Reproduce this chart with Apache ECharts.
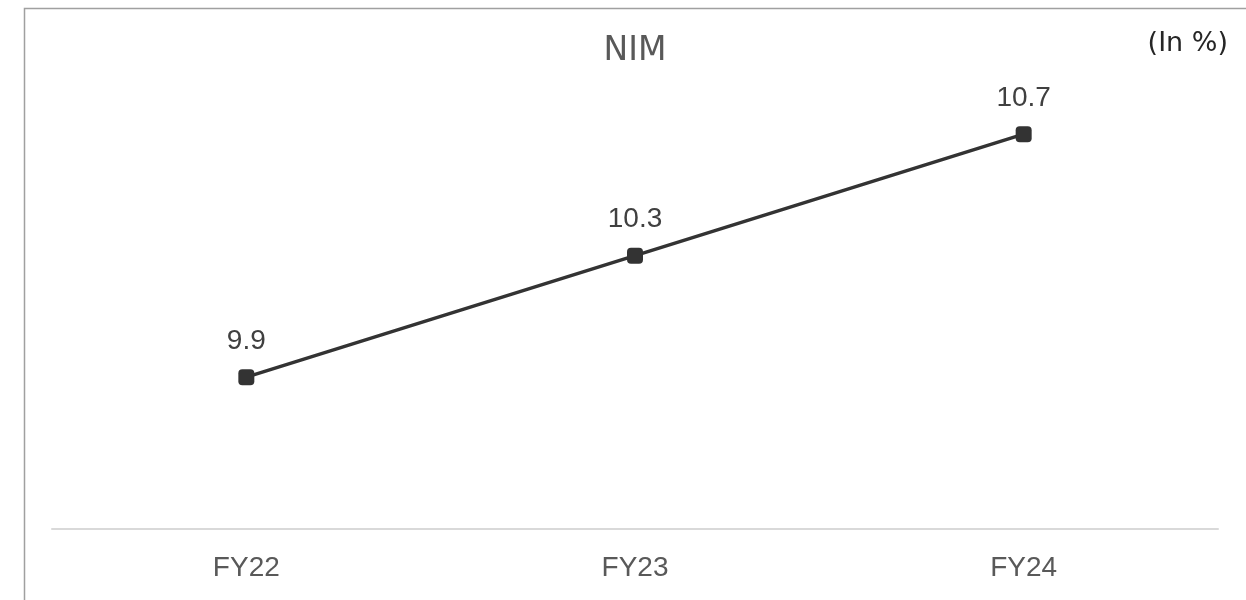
<!DOCTYPE html>
<html>
<head>
<meta charset="utf-8">
<script src="https://cdn.jsdelivr.net/npm/echarts@6/dist/echarts.min.js"></script>
<style>
html,body{margin:0;padding:0;background:#fff;}
#c{width:1246px;height:600px;}
</style>
</head>
<body>
<div id="c"></div>
<script>
const categories = ['FY22', 'FY23', 'FY24'];
const nimValues = [9.9, 10.3, 10.7];
const titleText = 'NIM';
const unitText = '(In %)';

const chart = echarts.init(document.getElementById('c'));
chart.setOption({
  animation: false,
  backgroundColor: '#fff',
  graphic: [
    { type: 'rect', left: 22, top: 6, shape: { x: 0, y: 0, width: 1400, height: 800 },
      style: { fill: 'none', stroke: '#a0a0a0', lineWidth: 1.5 }, silent: true },
    { type: 'text', x: 635, y: 51,
      style: { text: titleText, fontFamily: '"DejaVu Sans", sans-serif', fontSize: 33, fill: '#595959',
               align: 'center', verticalAlign: 'middle' } },
    { type: 'text', x: 1228, y: 44,
      style: { text: unitText, fontFamily: '"DejaVu Sans", sans-serif', fontSize: 27, fill: '#262626',
               align: 'right', verticalAlign: 'middle' } }
  ],
  grid: { left: 52, right: 28, top: 43, bottom: 71 },
  xAxis: {
    type: 'category',
    data: categories,
    axisLine: { lineStyle: { color: '#d9d9d9', width: 2 } },
    axisTick: { show: false },
    axisLabel: { margin: 25, fontFamily: 'Liberation Sans, Arial, sans-serif', fontSize: 28, color: '#595959' }
  },
  yAxis: {
    type: 'value',
    min: 9.4,
    max: 11.0,
    show: false,
    splitLine: { show: false }
  },
  series: [{
    type: 'line',
    data: nimValues,
    symbol: 'roundRect',
    symbolSize: 16,
    itemStyle: { color: '#333333' },
    lineStyle: { color: '#333333', width: 3.5 },
    label: {
      show: true,
      position: 'top',
      distance: 14,
      fontFamily: 'Liberation Sans, Arial, sans-serif',
      fontSize: 28,
      color: '#404040'
    }
  }]
});
</script>
</body>
</html>
